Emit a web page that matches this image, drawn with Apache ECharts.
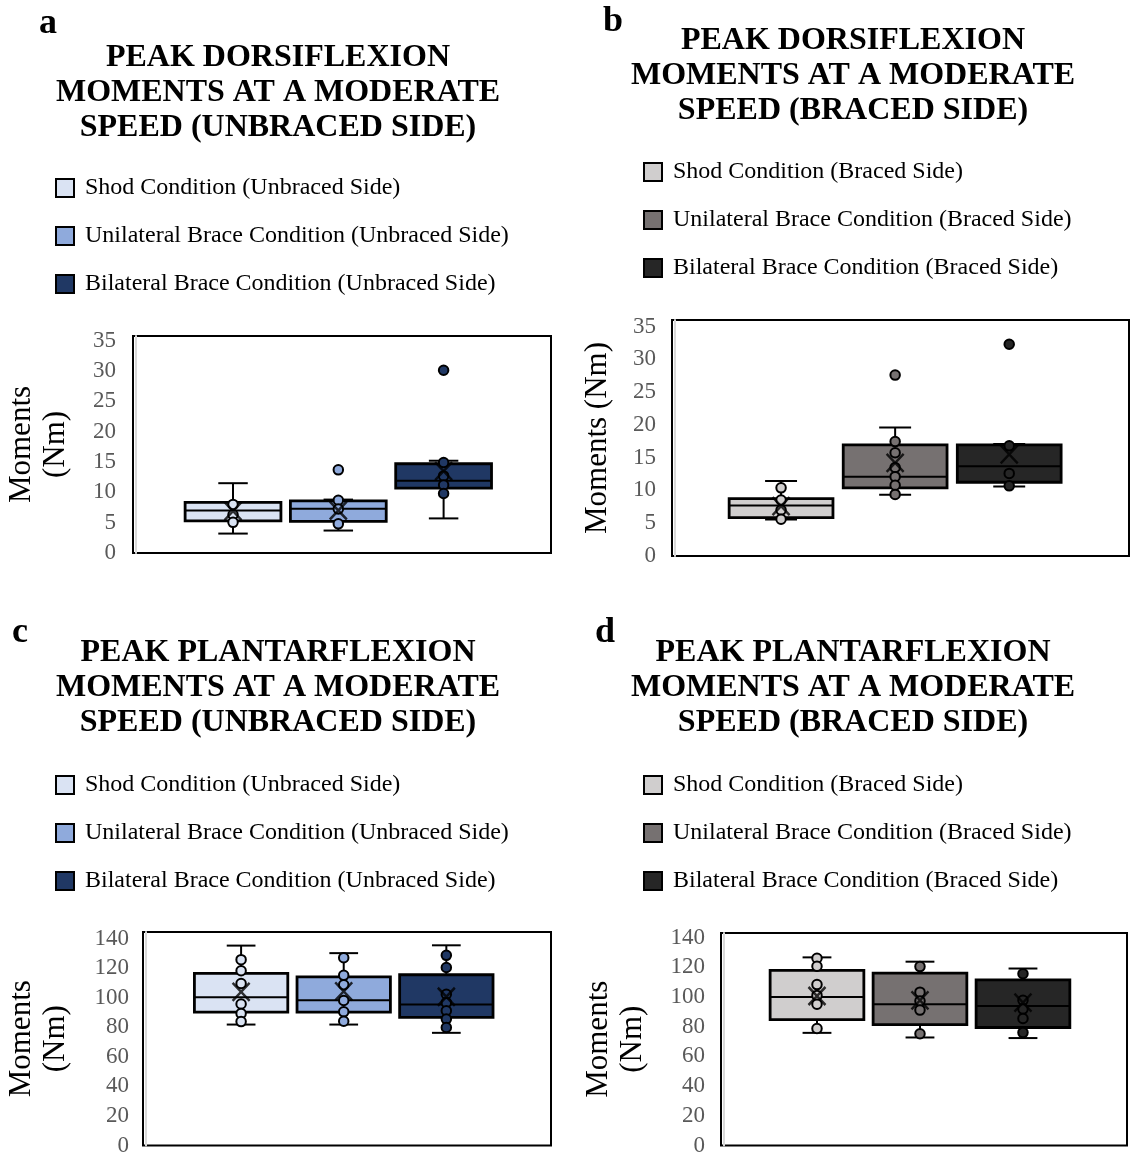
<!DOCTYPE html>
<html>
<head>
<meta charset="utf-8">
<script src="https://cdn.jsdelivr.net/npm/echarts@6/dist/echarts.min.js"></script>
<style>
  html, body { margin: 0; padding: 0; background: #fff; }
  #chart { width: 1131px; height: 1157px; }
</style>
</head>
<body>
<div id="chart"></div>
<script>
// ---- Conditions ----
const unbracedConditions = [
  'Shod Condition (Unbraced Side)',
  'Unilateral Brace Condition (Unbraced Side)',
  'Bilateral Brace Condition (Unbraced Side)'
];
const bracedConditions = [
  'Shod Condition (Braced Side)',
  'Unilateral Brace Condition (Braced Side)',
  'Bilateral Brace Condition (Braced Side)'
];

// ---- Box statistics per condition: [lower whisker, Q1, median, Q3, upper whisker] (Nm) ----
const dorsiUnbracedBoxes = [[3.2, 5.3, 7.0, 8.35, 11.5], [3.7, 5.2, 7.3, 8.6, 8.8], [5.7, 10.7, 11.9, 14.7, 15.2]];
const dorsiUnbracedMeans = [6.9, 7.0, 13.5];
const dorsiUnbracedPoints = [[8.0, 6.3, 5.05], [13.7, 8.7, 7.25, 4.8], [30.1, 14.9, 12.7, 11.2, 9.8]];

const dorsiBracedBoxes = [[5.55, 5.85, 7.7, 8.75, 11.45], [9.35, 10.4, 12.1, 16.95, 19.6], [10.6, 11.25, 13.7, 16.95, 17.1]];
const dorsiBracedMeans = [7.6, 14.2, 15.5];
const dorsiBracedPoints = [[10.4, 8.55, 7.0, 5.6], [27.6, 17.45, 15.75, 13.5, 12.1, 10.8, 9.4], [32.3, 16.8, 12.6, 10.7]];

const plantarUnbracedBoxes = [[81.8, 90.2, 100.3, 116.4, 135.2], [81.8, 90.2, 98.3, 114, 130.1], [76.2, 86.6, 95.3, 115.5, 135.4]];
const plantarUnbracedMeans = [103.9, 104.3, 100.6];
const plantarUnbracedPoints = [[125.7, 118.2, 109.6, 95.7, 89.3, 83.8], [127, 115.1, 108.7, 98.1, 90.4, 84], [128.6, 120.4, 102.3, 96.6, 91.1, 85.5, 79.8]];

const plantarBracedBoxes = [[75.8, 84.7, 99.9, 117.8, 126.6], [72.7, 81.3, 95, 116, 123.7], [72.3, 79.4, 93.9, 111.4, 119.1]];
const plantarBracedMeans = [100.6, 97.7, 96.1];
const plantarBracedPoints = [[126, 120.6, 108.3, 101, 95.1, 78.7], [120.4, 103.2, 97.2, 91.1, 75.2], [115.6, 97.7, 91.8, 85.5, 76]];

// ---- Fill colours ----
const unbracedColors = ['#dae3f3', '#8faadc', '#203864'];
const bracedColors = ['#d0cece', '#767171', '#262626'];

// ---- Panel text ----
const panelLetters = ['a', 'b', 'c', 'd'];
const panelTitles = [
  'PEAK DORSIFLEXION\nMOMENTS AT A MODERATE\nSPEED (UNBRACED SIDE)',
  'PEAK DORSIFLEXION\nMOMENTS AT A MODERATE\nSPEED (BRACED SIDE)',
  'PEAK PLANTARFLEXION\nMOMENTS AT A MODERATE\nSPEED (UNBRACED SIDE)',
  'PEAK PLANTARFLEXION\nMOMENTS AT A MODERATE\nSPEED (BRACED SIDE)'
];
const yAxisNames = ['Moments\n(Nm)', 'Moments (Nm)', 'Moments\n(Nm)', 'Moments\n(Nm)'];
const yTickSteps = [5, 5, 20, 20];

const panels = [
  { names: unbracedConditions, colors: unbracedColors, boxes: dorsiUnbracedBoxes, means: dorsiUnbracedMeans, points: dorsiUnbracedPoints },
  { names: bracedConditions, colors: bracedColors, boxes: dorsiBracedBoxes, means: dorsiBracedMeans, points: dorsiBracedPoints },
  { names: unbracedConditions, colors: unbracedColors, boxes: plantarUnbracedBoxes, means: plantarUnbracedMeans, points: plantarUnbracedPoints },
  { names: bracedConditions, colors: bracedColors, boxes: plantarBracedBoxes, means: plantarBracedMeans, points: plantarBracedPoints }
];

// ---- Layout of each panel (pixels) ----
const layouts = [
  { grid: { left: 133, top: 336, width: 418, height: 217 }, yMax: 35.75, xRange: [0.05, 4.02],
    titleX: 278, titleY: 40, letterX: 48, letterY: 6, legendX: 55, legendY: 176, nameGap: 63, labelMargin: 20 },
  { grid: { left: 672, top: 320, width: 457, height: 236 }, yMax: 36.0, xRange: [0.044, 4.05],
    titleX: 853, titleY: 23, letterX: 613, letterY: 4, legendX: 643, legendY: 160, nameGap: 60, labelMargin: 19 },
  { grid: { left: 143, top: 932, width: 408, height: 218 }, yMax: 144.4, xRange: [0.044, 4.02],
    titleX: 278, titleY: 635, letterX: 20, letterY: 615, legendX: 55, legendY: 773, nameGap: 73, labelMargin: 17 },
  { grid: { left: 721, top: 933, width: 406, height: 216 }, yMax: 143.0, xRange: [0.068, 4.01],
    titleX: 853, titleY: 635, letterX: 605, letterY: 615, legendX: 643, legendY: 773, nameGap: 74, labelMargin: 19 }
];

const SERIF = '"Liberation Serif", "Times New Roman", serif';
const BOX_WIDTH = 0.91;   // in x-axis units (one unit per condition)
const CAP_WIDTH = 0.28;

function renderBox(params, api) {
  const x = api.value(0);
  const lo = api.value(1), q1 = api.value(2), med = api.value(3), q3 = api.value(4), hi = api.value(5);
  const hb = BOX_WIDTH / 2, hc = CAP_WIDTH / 2;
  const stroke = { stroke: '#000', lineWidth: 2 };
  const seg = (x1, v1, x2, v2) => {
    const a = api.coord([x1, v1]), b = api.coord([x2, v2]);
    return { type: 'line', shape: { x1: a[0], y1: a[1], x2: b[0], y2: b[1] }, style: stroke };
  };
  const tl = api.coord([x - hb, q3]);
  const br = api.coord([x + hb, q1]);
  return {
    type: 'group',
    children: [
      seg(x, hi, x, q3),
      seg(x, lo, x, q1),
      seg(x - hc, hi, x + hc, hi),
      seg(x - hc, lo, x + hc, lo),
      {
        type: 'rect',
        shape: { x: tl[0], y: tl[1], width: br[0] - tl[0], height: br[1] - tl[1] },
        style: { fill: api.visual('color'), stroke: '#000', lineWidth: 2.8 }
      },
      seg(x - hb, med, x + hb, med)
    ]
  };
}

const option = {
  animation: false,
  backgroundColor: '#fff',
  title: [],
  legend: [],
  grid: [],
  xAxis: [],
  yAxis: [],
  series: []
};

panels.forEach((p, k) => {
  const L = layouts[k];
  option.title.push({
    text: panelLetters[k], left: L.letterX, top: L.letterY, padding: 0, textAlign: 'center',
    textStyle: { fontFamily: SERIF, fontSize: 36, fontWeight: 'bold', color: '#000', lineHeight: 36 }
  });
  option.title.push({
    text: panelTitles[k], left: L.titleX, top: L.titleY, padding: 0, textAlign: 'center',
    textStyle: { fontFamily: SERIF, fontSize: 32, fontWeight: 'bold', color: '#000', lineHeight: 35 }
  });
  option.legend.push({
    data: p.names, orient: 'vertical', left: L.legendX, top: L.legendY, padding: 0,
    icon: 'rect', itemWidth: 18, itemHeight: 18, itemGap: 24, selectedMode: false,
    itemStyle: { borderColor: '#000', borderWidth: 2 },
    textStyle: { fontFamily: SERIF, fontSize: 24, color: '#000', lineHeight: 24, padding: [0, 0, 0, 6] }
  });
  option.grid.push(Object.assign({ show: true, borderColor: '#000', borderWidth: 2, backgroundColor: 'transparent' }, L.grid));
  option.xAxis.push({ type: 'value', gridIndex: k, min: L.xRange[0], max: L.xRange[1], show: false });
  const step = yTickSteps[k];
  option.yAxis.push({
    type: 'value', gridIndex: k, min: 0, max: L.yMax, interval: step, offset: -3,
    name: yAxisNames[k], nameLocation: 'middle', nameRotate: 90, nameGap: L.nameGap,
    nameTextStyle: { fontFamily: SERIF, fontSize: 31, color: '#000', lineHeight: 34 },
    axisLine: { show: true, lineStyle: { color: '#d9d9d9', width: 2 } },
    axisTick: { show: false },
    splitLine: { show: false },
    axisLabel: {
      margin: L.labelMargin, fontFamily: SERIF, fontSize: 23, color: '#595959',
      formatter: v => (Math.abs(v / step - Math.round(v / step)) < 1e-6 ? String(v) : '')
    }
  });

  p.names.forEach((name, i) => {
    option.series.push({
      type: 'custom', name, xAxisIndex: k, yAxisIndex: k, z: 2,
      itemStyle: { color: p.colors[i] },
      encode: { x: 0, y: [1, 2, 3, 4, 5] },
      renderItem: renderBox,
      data: [[i + 1].concat(p.boxes[i])]
    });
  });
  p.names.forEach((name, i) => {
    option.series.push({
      type: 'scatter', name, xAxisIndex: k, yAxisIndex: k, z: 3,
      symbol: 'circle', symbolSize: 9.5,
      itemStyle: { color: p.colors[i], borderColor: '#000', borderWidth: 2, opacity: 1 },
      data: p.points[i].map(v => [i + 1, v])
    });
  });
  option.series.push({
    type: 'scatter', name: 'Mean', xAxisIndex: k, yAxisIndex: k, z: 4,
    symbol: 'path://M0,0L16,17M16,0L0,17', symbolSize: [17, 18],
    itemStyle: { color: 'transparent', borderColor: '#000', borderWidth: 2.5 },
    data: p.means.map((v, i) => [i + 1, v])
  });
});

const chart = echarts.init(document.getElementById('chart'), null, { renderer: 'canvas' });
chart.setOption(option);
</script>
</body>
</html>
